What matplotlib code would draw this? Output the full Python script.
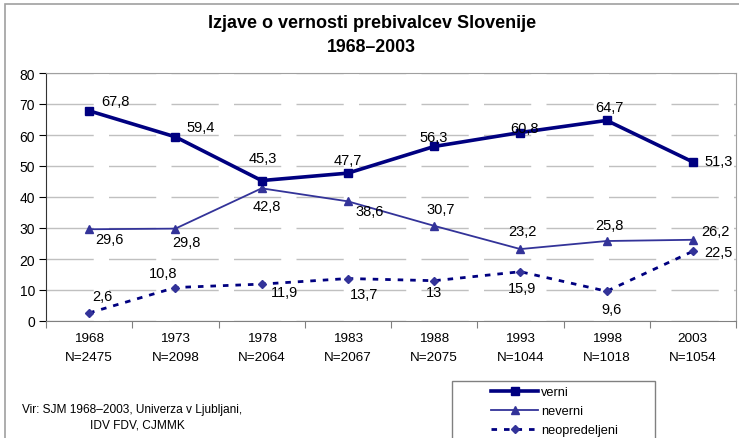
import matplotlib.pyplot as plt
from matplotlib.patches import Rectangle

plt.rcParams['font.family'] = ['Liberation Sans', 'DejaVu Sans']
plt.rcParams['lines.scale_dashes'] = False

# podatki
leta = ['1968', '1973', '1978', '1983', '1988', '1993', '1998', '2003']
n_vzorec = ['2475', '2098', '2064', '2067', '2075', '1044', '1018', '1054']
verni = [67.8, 59.4, 45.3, 47.7, 56.3, 60.8, 64.7, 51.3]
neverni = [29.6, 29.8, 42.8, 38.6, 30.7, 23.2, 25.8, 26.2]
neopredeljeni = [2.6, 10.8, 11.9, 13.7, 13, 15.9, 9.6, 22.5]

# odmiki oznak (v pikslih, x desno, y gor)
odmik_verni = [(26, 10), (25, 10), (1, 23), (0, 13), (0, 9), (4, 5), (3, 13), (26, 1)]
odmik_neverni = [(20, -10), (11, -13), (5, -18), (22, -10), (7, 17), (2, 18), (3, 16), (23, 9)]
odmik_neopr = [(13, 17), (-12, 15), (23, -8), (16, -15), (0, -11), (2, -16), (5, -18), (26, -1)]

W, H = 739, 439
fig = plt.figure(figsize=(W / 100, H / 100), dpi=100)

# okvir slike
fig.patches.append(Rectangle((5 / W, -0.1), 1.0, 1 - 5 / H + 0.1, transform=fig.transFigure,
                             fill=False, edgecolor='#a0a0a0', linewidth=1.2, clip_on=False))

ax = fig.add_axes([46 / W, (H - 322) / H, 690 / W, 248 / H])
x = list(range(len(leta)))

ax.plot(x, verni, color='#000080', linewidth=2.6, marker='s', markersize=5.5, label='verni', zorder=4)
ax.plot(x, neverni, color='#333399', linewidth=1.3, marker='^', markersize=6, label='neverni', zorder=3)
ax.plot(x, neopredeljeni, color='#000080', linewidth=2.0, dashes=(4, 5), marker='D', markersize=4.5,
        markerfacecolor='#333399', markeredgecolor='#333399', label='neopredeljeni', zorder=3)

def oznaci(vrednosti, odmiki):
    for xi, v, (dx, dy) in zip(x, vrednosti, odmiki):
        ax.annotate(str(v).replace('.', ','), (xi, v), xytext=(dx * 0.72, dy * 0.72),
                    textcoords='offset points', ha='center', va='center', fontsize=10.5, zorder=5)

oznaci(verni, odmik_verni)
oznaci(neverni, odmik_neverni)
oznaci(neopredeljeni, odmik_neopr)

ax.set_xlim(-0.5, len(leta) - 0.5)
ax.set_ylim(0, 80)
ax.set_yticks(range(0, 81, 10))
ax.set_xticks([i - 0.5 for i in range(len(leta) + 1)])
ax.set_xticklabels([])
ax.set_xticks(x, minor=True)
ax.set_xticklabels([f'{l}\nN={n}' for l, n in zip(leta, n_vzorec)], minor=True, fontsize=9.7,
                   linespacing=1.75)
ax.tick_params(axis='x', which='minor', length=0, pad=8)
ax.tick_params(axis='x', which='major', length=5, color='#808080')
ax.tick_params(axis='y', length=5, labelsize=10, pad=3)

ax.yaxis.grid(True, color='#c0c0c0', linewidth=1, dashes=(34, 11))
ax.set_axisbelow(True)
ax.spines['left'].set_color('#333333')
ax.spines['bottom'].set_color('#808080')
ax.spines['top'].set_color('#a0a0a0')
ax.spines['right'].set_color('#a0a0a0')

fig.text(372 / W, 1 - 23 / H, 'Izjave o vernosti prebivalcev Slovenije', ha='center', va='center',
         fontsize=13, fontweight='bold')
fig.text(371 / W, 1 - 47 / H, '1968–2003', ha='center', va='center', fontsize=12.8, fontweight='bold')

fig.text(22 / W, 1 - 410 / H, 'Vir: SJM 1968–2003, Univerza v Ljubljani,', ha='left', va='center', fontsize=8.6)
fig.text(90 / W, 1 - 426 / H, 'IDV FDV, CJMMK', ha='left', va='center', fontsize=8.6)

# legenda
fig.patches.append(Rectangle((452 / W, -0.1), (655 - 452) / W, (439 - 382) / H + 0.1,
                             transform=fig.transFigure, fill=False, edgecolor='#808080',
                             linewidth=1, clip_on=False))
fig.legend(loc='upper left', bbox_to_anchor=(491 / W, 1 - 387 / H), frameon=False, fontsize=9.2,
           handlelength=3.7, handletextpad=0.2, labelspacing=0.55, borderpad=0, borderaxespad=0)

fig.savefig('out.png', dpi=100)
